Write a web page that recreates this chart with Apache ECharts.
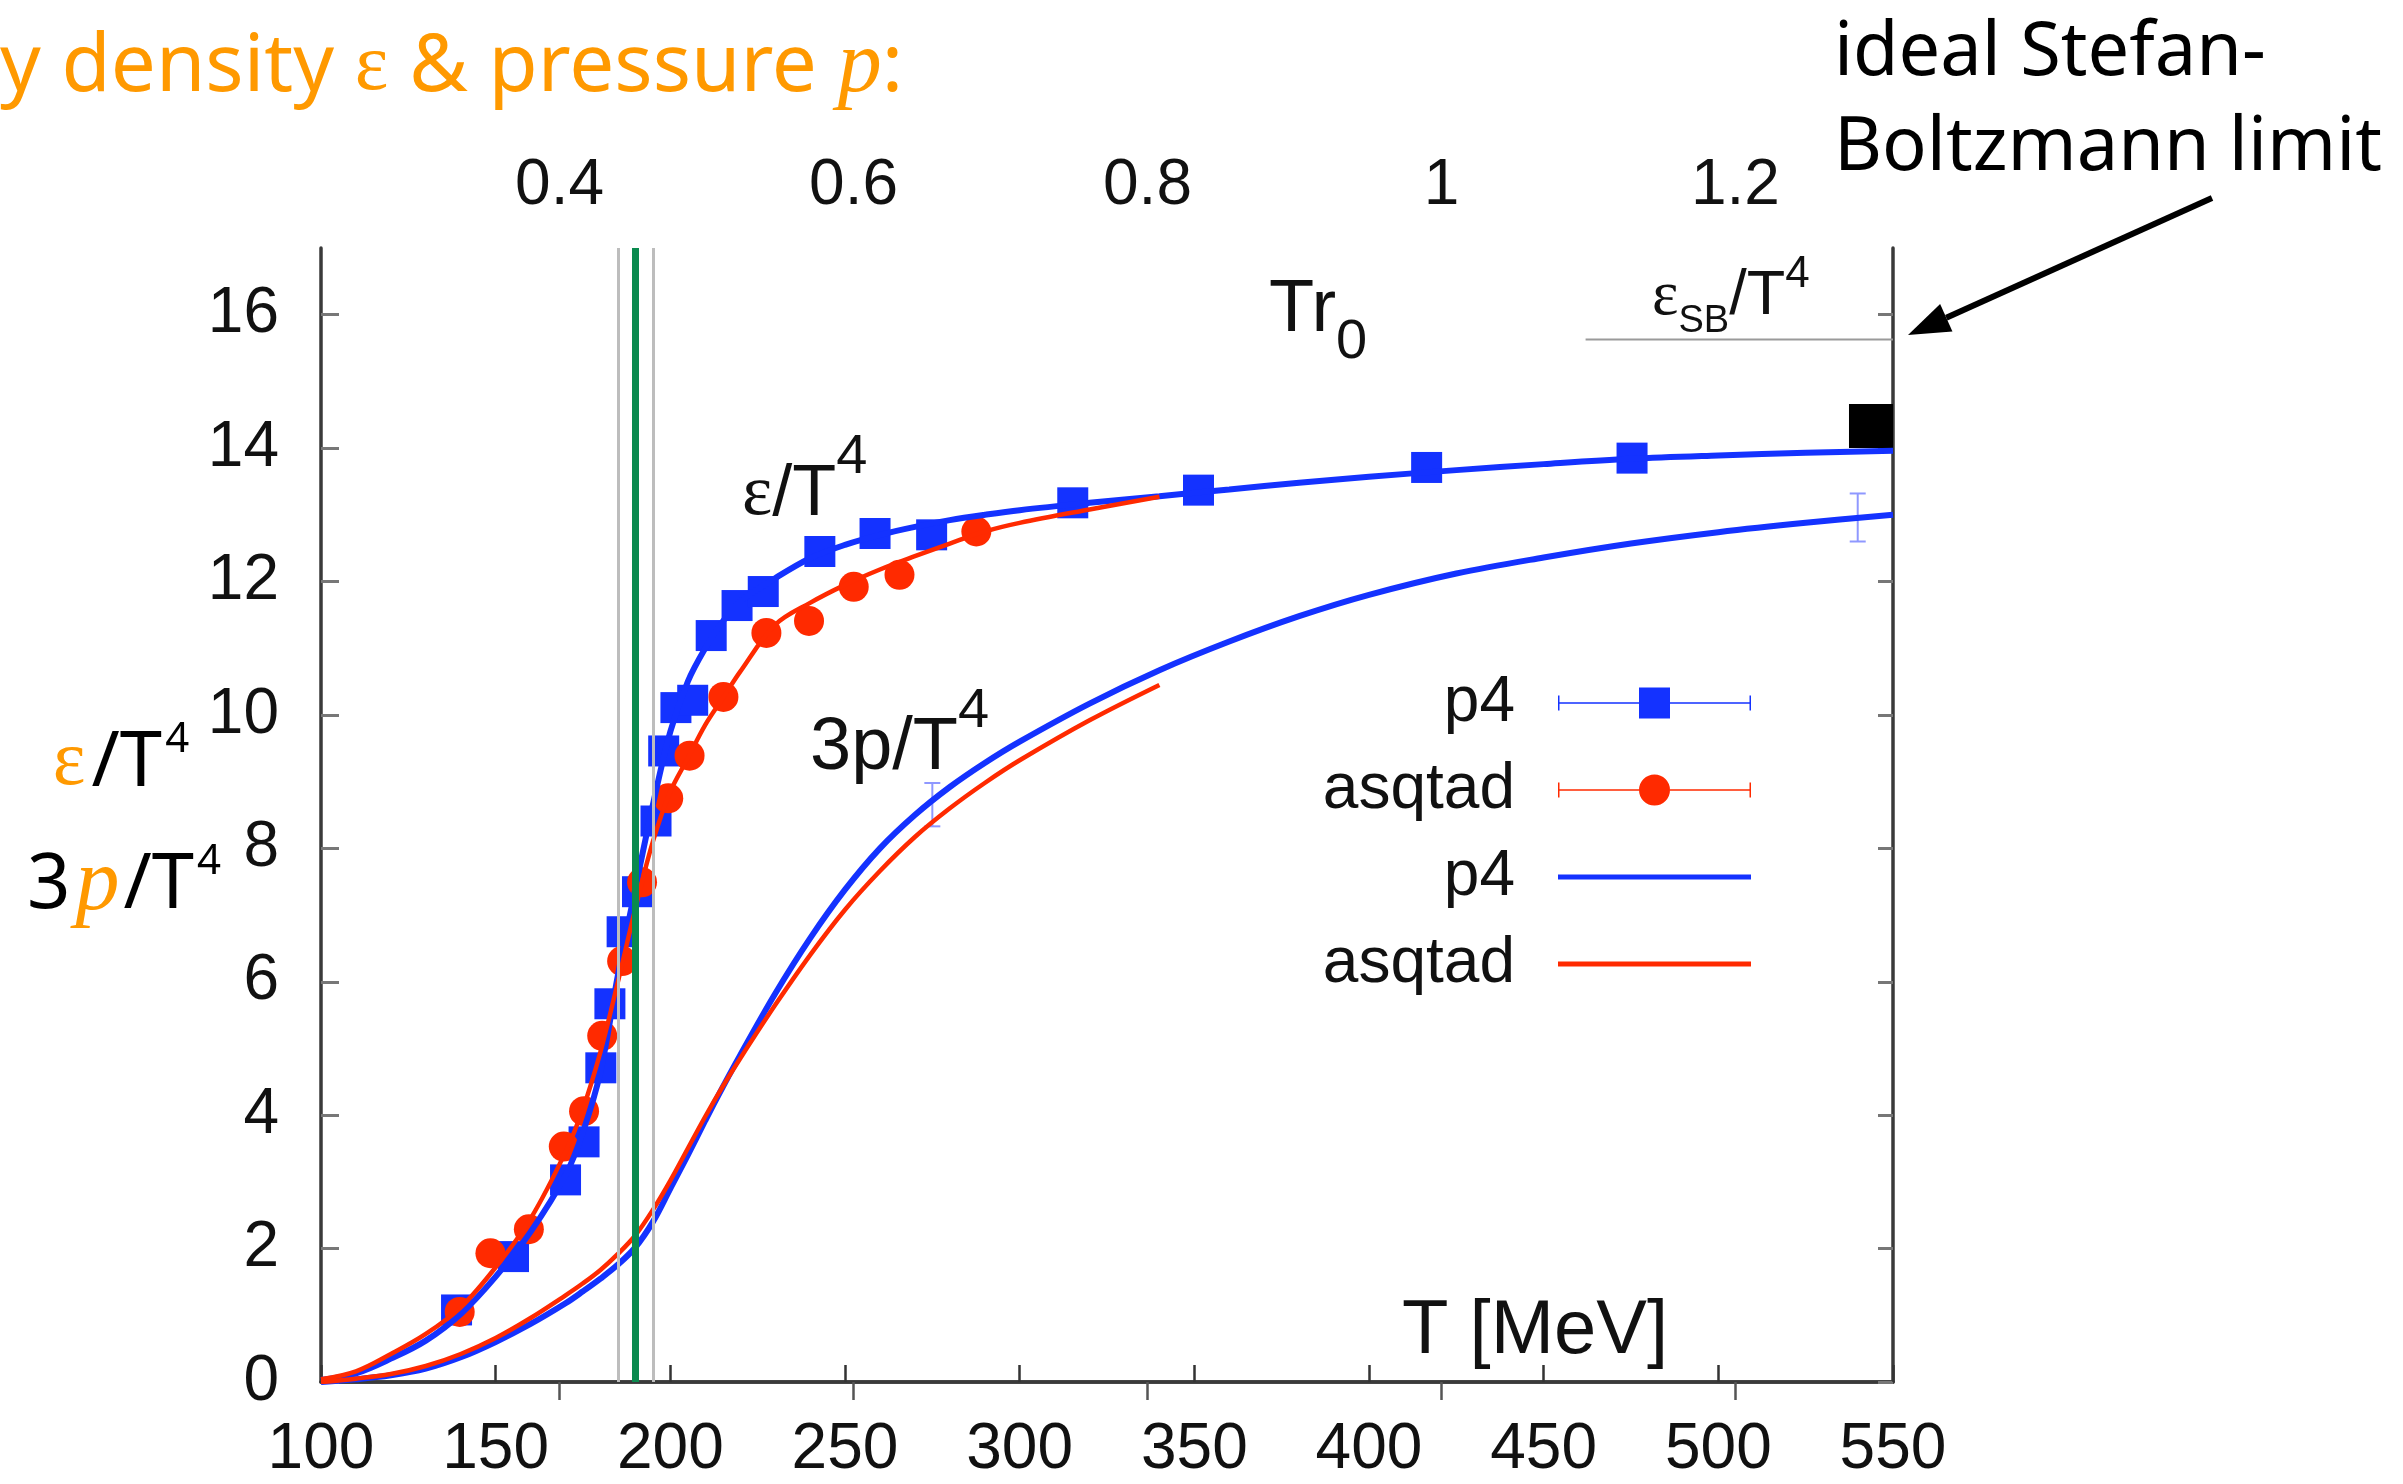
<!DOCTYPE html>
<html>
<head>
<meta charset="utf-8">
<script src="https://cdn.jsdelivr.net/npm/echarts@6/dist/echarts.min.js"></script>
<style>
  html, body { margin: 0; padding: 0; background: #ffffff; }
  #chart { width: 2403px; height: 1484px; }
</style>
</head>
<body>
<div id="chart"></div>
<script>
// ---- lattice QCD equation of state: energy density and pressure ----

// bottom axis: temperature T [MeV]; top axis: T*r0 with r0 = 0.469 fm
const R0_PER_MEV = 0.469 / 197.327;
const tr0Ticks = [0.4, 0.6, 0.8, 1, 1.2];
const yTicks = [0, 2, 4, 6, 8, 10, 12, 14, 16];

// transition region: Tc = 190 MeV with a band 185..195 MeV
const tcCentral = 190;
const tcBand = [185, 195];

// epsilon/T^4 lattice data, p4 action (squares)
const p4EpsT = [138.8, 155.1, 170.0, 175.3, 180.1, 182.7, 186.2, 190.6, 195.9, 198.1, 201.6,
                206.4, 211.7, 219.1, 226.6, 242.8, 258.6, 274.8, 315.2, 351.2, 416.5, 475.3];
const p4Eps  = [1.08, 1.88, 3.03, 3.60, 4.71, 5.67, 6.75, 7.35, 8.41, 9.46, 10.11,
                10.22, 11.19, 11.64, 11.85, 12.45, 12.72, 12.70, 13.18, 13.37, 13.71, 13.85];

// epsilon/T^4 lattice data, asqtad action (circles)
const asqEpsT = [139.7, 148.5, 159.5, 169.5, 175.3, 180.5, 186.2, 191.9, 199.4, 205.5,
                 215.2, 227.5, 239.7, 252.5, 265.6, 287.6];
const asqEps  = [1.05, 1.93, 2.29, 3.53, 4.06, 5.19, 6.31, 7.49, 8.75, 9.39,
                 10.27, 11.23, 11.41, 11.92, 12.10, 12.75];

// interpolating curves on a common temperature grid
const fitT = [100, 110, 120, 130, 140, 150, 160, 170, 175, 180, 185, 190, 195, 200, 205, 210, 215, 220,
              230, 240, 250, 260, 270, 280, 290, 300, 320, 340, 360, 380, 400, 425, 450, 475, 500, 525, 550];
const p4EpsFit = [0.03, 0.13, 0.35, 0.62, 1.02, 1.58, 2.25, 3.1, 3.75, 4.65, 6.1, 7.4, 8.65, 9.75, 10.5, 11.0, 11.4, 11.7,
                  12.05, 12.35, 12.55, 12.7, 12.82, 12.92, 13.0, 13.07, 13.18, 13.28, 13.38, 13.48, 13.57,
                  13.67, 13.76, 13.84, 13.89, 13.93, 13.96];
const p4PressFit = [0.0, 0.04, 0.1, 0.2, 0.37, 0.6, 0.87, 1.18, 1.36, 1.55, 1.76, 2.02, 2.4, 2.9, 3.4, 3.92, 4.42, 4.9,
                    5.82, 6.65, 7.38, 8.0, 8.5, 8.92, 9.28, 9.6, 10.17, 10.67, 11.1, 11.48, 11.8,
                    12.12, 12.36, 12.57, 12.74, 12.88, 13.0];
const asqEpsFit = [0.04, 0.16, 0.42, 0.72, 1.12, 1.72, 2.45, 3.45, 4.1, 4.95, 6.0, 7.1, 8.1, 8.85, 9.35, 9.85, 10.25, 10.65,
                   11.35, 11.68, 11.95, 12.18, 12.38, 12.57, 12.75, 12.88, 13.08, 13.27];
const asqPressFit = [0.0, 0.05, 0.12, 0.24, 0.42, 0.66, 0.96, 1.3, 1.48, 1.68, 1.92, 2.2, 2.58, 3.02, 3.5, 3.98, 4.43, 4.85,
                     5.65, 6.4, 7.08, 7.66, 8.17, 8.6, 8.98, 9.32, 9.92, 10.45];

// 3p/T^4 error bars (p4)
const pressErrT  = [275.0, 539.9];
const pressErrLo = [8.33, 12.60];
const pressErrHi = [8.98, 13.32];

// ideal Stefan-Boltzmann limit and high-temperature marker
const sbLimit = 15.63;
const sbLineT = [462, 550];
const sbMarkT = [543.7];
const sbMarkV = [14.33];

// ---- styling ----
const BLUE = '#1432ff', RED = '#ff2a00', GREEN = '#0a8a4e', ORANGE = '#ff9900', INK = '#111111';
const SANS = 'Liberation Sans', SERIF = 'Liberation Serif', HAND = 'Noto Sans';

const zip = (xs, ys) => ys.map((y, i) => [xs[i], y]);

const legendText = { 'p4 data': 'p4', 'asqtad data': 'asqtad', 'p4 fit': 'p4', 'asqtad fit': 'asqtad' };
const ICON_SQUARE = 'path://M0,15L0,16Z M38,14.8h81v1.4h-81z M38,8h1.5v15h-1.5z M150,14.8h81v1.4h-81z M229.5,8h1.5v15h-1.5z M119,0h31v31h-31z';
const ICON_CIRCLE = 'path://M0,15L0,16Z M38,14.8h81v1.4h-81z M38,8h1.5v15h-1.5z M150,14.8h81v1.4h-81z M229.5,8h1.5v15h-1.5z M119,15.5a15.5,15.5 0 1,0 31,0a15.5,15.5 0 1,0 -31,0z';
const ICON_LINE = 'path://M0,13L0,18Z M38,13h193v5h-193z';

// superscript / subscript helper for rich labels
function richLabel(x, top, text, rich, align) {
  return { type: 'text', x: x, y: top, z: 50, silent: true,
           style: { text: text, rich: rich, align: align || 'left', verticalAlign: 'top' } };
}

// arrow pointing at the Stefan-Boltzmann line
const arrowTail = [2212, 198], arrowTip = [1908, 335];
const adx = arrowTip[0] - arrowTail[0], ady = arrowTip[1] - arrowTail[1];
const alen = Math.hypot(adx, ady), ux = adx / alen, uy = ady / alen;
const headLen = 42, headHalf = 15;
const baseX = arrowTip[0] - ux * headLen, baseY = arrowTip[1] - uy * headLen;

const axisLineStyle = { color: '#3a3a3a', width: 3.5 };
const tickFont = { fontSize: 64, fontFamily: SANS, color: INK };

const option = {
  animation: false,
  backgroundColor: '#ffffff',
  grid: { left: 321, top: 248, width: 1572, height: 1134, outerBoundsMode: 'none', containLabel: false },
  xAxis: [
    {
      type: 'value', position: 'bottom', min: 100, max: 550, interval: 50,
      axisLine: { lineStyle: axisLineStyle },
      axisTick: { inside: true, length: 17, lineStyle: { color: '#333', width: 2.5 } },
      axisLabel: Object.assign({ margin: 36 }, tickFont),
      splitLine: { show: false }
    },
    {
      type: 'value', position: 'top', min: 100 * R0_PER_MEV, max: 550 * R0_PER_MEV,
      axisLine: { lineStyle: axisLineStyle },
      axisTick: { inside: true, length: 18, customValues: tr0Ticks, lineStyle: { color: '#555', width: 2.5 } },
      axisLabel: Object.assign({ margin: 30, customValues: tr0Ticks,
                                 formatter: v => String(Math.round(v * 10) / 10) }, tickFont),
      splitLine: { show: false }
    }
  ],
  yAxis: [
    {
      type: 'value', position: 'left', min: 0, max: 17,
      axisLine: { show: true, lineStyle: axisLineStyle },
      axisTick: { show: true, inside: true, length: 18, customValues: yTicks, lineStyle: { color: '#777', width: 3 } },
      axisLabel: Object.assign({ margin: 42, customValues: yTicks }, tickFont),
      splitLine: { show: false }
    },
    {
      type: 'value', position: 'right', min: 0, max: 17,
      axisLine: { show: true, lineStyle: axisLineStyle },
      axisTick: { show: true, inside: true, length: 15, customValues: yTicks, lineStyle: { color: '#777', width: 3 } },
      axisLabel: { show: false },
      splitLine: { show: false }
    }
  ],
  legend: {
    orient: 'vertical', right: 652, top: 671, padding: 0,
    itemWidth: 231, itemHeight: 31, itemGap: 23, align: 'right', selectedMode: false,
    itemStyle: { borderWidth: 0 },
    textStyle: { fontSize: 64, fontFamily: SANS, color: INK },
    formatter: name => legendText[name],
    data: [
      { name: 'p4 data', icon: ICON_SQUARE },
      { name: 'asqtad data', icon: ICON_CIRCLE },
      { name: 'p4 fit', icon: ICON_LINE },
      { name: 'asqtad fit', icon: ICON_LINE }
    ]
  },
  series: [
    {
      type: 'line', name: 'Tc band', data: [], silent: true, z: 1,
      markLine: { symbol: 'none', silent: true, animation: false, label: { show: false },
                  lineStyle: { color: '#bdbdbd', width: 3, type: 'solid' },
                  emphasis: { disabled: true },
                  data: tcBand.map(t => ({ xAxis: t })) }
    },
    {
      type: 'scatter', name: 'p4 data', data: zip(p4EpsT, p4Eps), z: 3,
      symbol: 'rect', symbolSize: 31, itemStyle: { color: BLUE, opacity: 1 }
    },
    {
      type: 'scatter', name: 'asqtad data', data: zip(asqEpsT, asqEps), z: 3,
      symbol: 'circle', symbolSize: 30, itemStyle: { color: RED, opacity: 1 }
    },
    {
      type: 'line', name: 'p4 fit', data: zip(fitT, p4EpsFit), z: 4, smooth: 0.35, symbol: 'none',
      color: BLUE, itemStyle: { color: BLUE }, lineStyle: { color: BLUE, width: 6 }
    },
    {
      type: 'line', name: 'p4 fit', data: zip(fitT, p4PressFit), z: 4, smooth: 0.35, symbol: 'none',
      color: BLUE, itemStyle: { color: BLUE }, lineStyle: { color: BLUE, width: 6 }
    },
    {
      type: 'line', name: 'asqtad fit', data: zip(fitT, asqEpsFit), z: 4, smooth: 0.35, symbol: 'none',
      color: RED, itemStyle: { color: RED }, lineStyle: { color: RED, width: 4.5 }
    },
    {
      type: 'line', name: 'asqtad fit', data: zip(fitT, asqPressFit), z: 4, smooth: 0.35, symbol: 'none',
      color: RED, itemStyle: { color: RED }, lineStyle: { color: RED, width: 4.5 }
    },
    {
      type: 'custom', name: 'p4 3p errors', z: 4, silent: true,
      data: pressErrT.map((t, i) => [t, pressErrLo[i], pressErrHi[i]]),
      encode: { x: 0, y: [1, 2] },
      renderItem: (params, api) => {
        const lo = api.coord([api.value(0), api.value(1)]);
        const hi = api.coord([api.value(0), api.value(2)]);
        const cap = 8;
        const st = { stroke: '#8f98ff', lineWidth: 2 };
        return { type: 'group', children: [
          { type: 'line', shape: { x1: lo[0], y1: lo[1], x2: hi[0], y2: hi[1] }, style: st },
          { type: 'line', shape: { x1: lo[0] - cap, y1: lo[1], x2: lo[0] + cap, y2: lo[1] }, style: st },
          { type: 'line', shape: { x1: hi[0] - cap, y1: hi[1], x2: hi[0] + cap, y2: hi[1] }, style: st }
        ] };
      }
    },
    {
      type: 'line', name: 'SB limit', data: sbLineT.map(t => [t, sbLimit]), z: 2, symbol: 'none', silent: true,
      lineStyle: { color: '#9a9a9a', width: 2 }
    },
    {
      type: 'scatter', name: 'SB marker', data: zip(sbMarkT, sbMarkV), z: 3,
      symbol: 'rect', symbolSize: 44, itemStyle: { color: '#000000', opacity: 1 }
    },
    {
      type: 'line', name: 'Tc', data: [], silent: true, z: 5,
      markLine: { symbol: 'none', silent: true, animation: false, label: { show: false },
                  lineStyle: { color: GREEN, width: 7, type: 'solid' },
                  emphasis: { disabled: true },
                  data: [{ xAxis: tcCentral }] }
    }
  ],
  graphic: {
    elements: [
      // heading
      richLabel(0, 18, '{a|y density }{e|ε}{a| & pressure }{p|p}{a|:}', {
        a: { fontFamily: HAND, fontSize: 80, lineHeight: 100, fill: ORANGE },
        e: { fontFamily: SERIF, fontSize: 80, lineHeight: 100, fill: ORANGE },
        p: { fontFamily: SERIF, fontStyle: 'italic', fontSize: 88, lineHeight: 100, fill: ORANGE }
      }),
      // note about the Stefan-Boltzmann limit
      richLabel(1834, 6, '{a|ideal Stefan-}\n{a|Boltzmann limit}', {
        a: { fontFamily: HAND, fontSize: 74, lineHeight: 95, fill: '#000' }
      }),
      { type: 'line', z: 50, silent: true,
        shape: { x1: arrowTail[0], y1: arrowTail[1], x2: baseX, y2: baseY },
        style: { stroke: '#000', lineWidth: 6 } },
      { type: 'polygon', z: 50, silent: true,
        shape: { points: [arrowTip,
                          [baseX - uy * headHalf, baseY + ux * headHalf],
                          [baseX + uy * headHalf, baseY - ux * headHalf]] },
        style: { fill: '#000' } },
      // vertical axis title
      richLabel(121, 719, '{e|ε}{m|/T}{s|4}', {
        e: { fontFamily: SERIF, fontSize: 78, lineHeight: 90, fill: ORANGE, padding: [0, 6, 0, 0] },
        m: { fontFamily: HAND, fontSize: 76, lineHeight: 90, fill: '#000', padding: [0, 3, 0, 0] },
        s: { fontFamily: HAND, fontSize: 42, lineHeight: 60, verticalAlign: 'top', fill: '#000' }
      }, 'center'),
      richLabel(124, 841, '{m|3}{p|p}{m|/T}{s|4}', {
        p: { fontFamily: SERIF, fontStyle: 'italic', fontSize: 88, lineHeight: 90, fill: ORANGE, padding: [0, 4, 0, 2] },
        m: { fontFamily: HAND, fontSize: 76, lineHeight: 90, fill: '#000', padding: [0, 3, 0, 0] },
        s: { fontFamily: HAND, fontSize: 42, lineHeight: 60, verticalAlign: 'top', fill: '#000' }
      }, 'center'),
      // curve labels inside the frame
      richLabel(742, 430, '{e|ε}{m|/T}{s|4}', {
        e: { fontFamily: SERIF, fontSize: 72, lineHeight: 130, fill: INK },
        m: { fontFamily: SANS, fontSize: 72, lineHeight: 130, fill: INK },
        s: { fontFamily: SANS, fontSize: 56, lineHeight: 56, verticalAlign: 'top', fill: INK }
      }),
      richLabel(810, 684, '{m|3p/T}{s|4}', {
        m: { fontFamily: SANS, fontSize: 74, lineHeight: 130, fill: INK },
        s: { fontFamily: SANS, fontSize: 56, lineHeight: 56, verticalAlign: 'top', fill: INK }
      }),
      richLabel(1269, 251, '{m|Tr}{b|0}', {
        m: { fontFamily: SANS, fontSize: 74, lineHeight: 120, fill: INK },
        b: { fontFamily: SANS, fontSize: 56, lineHeight: 56, verticalAlign: 'bottom', fill: INK }
      }),
      richLabel(1402, 1294, '{m|T [MeV]}', {
        m: { fontFamily: SANS, fontSize: 76, lineHeight: 76, fill: INK }
      }),
      richLabel(1652, 253, '{e|ε}{b|SB}{m|/T}{s|4}', {
        e: { fontFamily: SERIF, fontSize: 63, lineHeight: 88, fill: INK },
        b: { fontFamily: SANS, fontSize: 38, lineHeight: 38, verticalAlign: 'bottom', fill: INK },
        m: { fontFamily: SANS, fontSize: 63, lineHeight: 88, fill: INK },
        s: { fontFamily: SANS, fontSize: 44, lineHeight: 44, verticalAlign: 'top', fill: INK }
      })
    ]
  }
};

const chart = echarts.init(document.getElementById('chart'), null, { renderer: 'canvas' });
chart.setOption(option);
</script>
</body>
</html>
